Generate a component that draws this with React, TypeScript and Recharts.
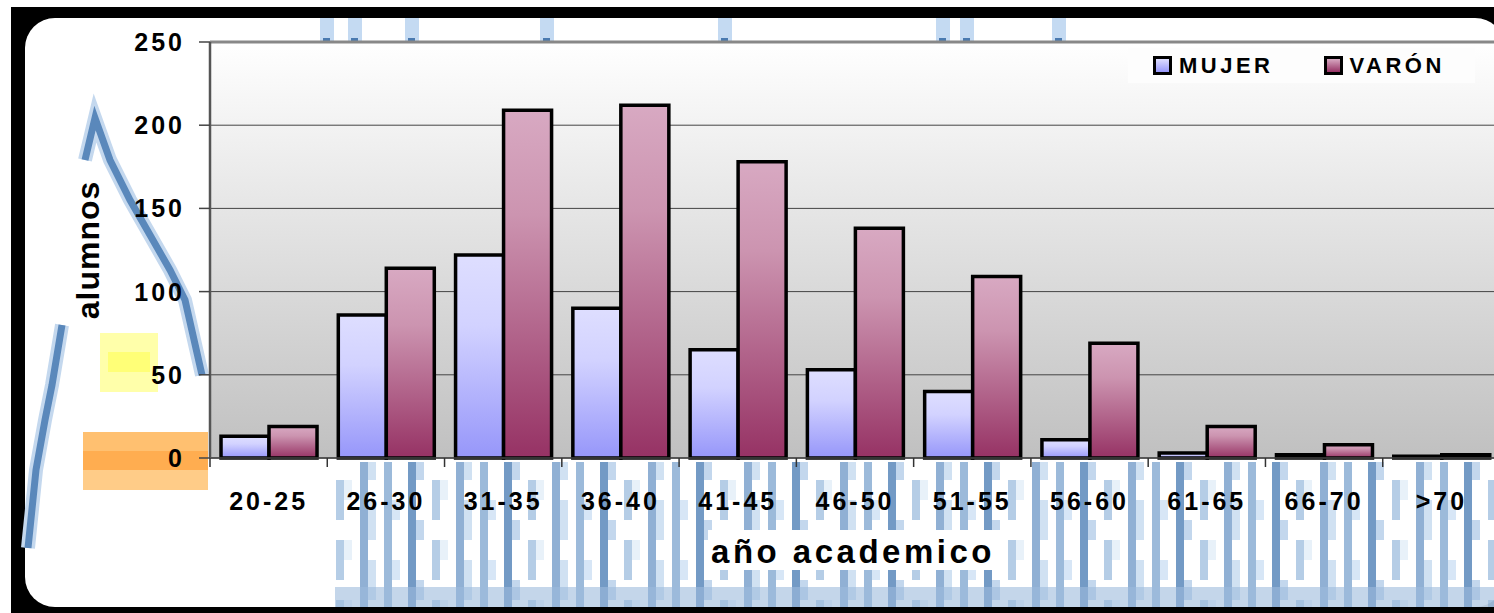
import { BarChart, Bar, XAxis, YAxis, CartesianGrid, Label, ReferenceLine } from "recharts";

const ageGroups = ["20-25", "26-30", "31-35", "36-40", "41-45", "46-50", "51-55", "56-60", "61-65", "66-70", ">70"];
const mujer = [13, 86, 122, 90, 65, 53, 40, 11, 3, 2, 1];
const varon = [19, 114, 209, 212, 178, 138, 109, 69, 19, 8, 2];
const yTicks = [0, 50, 100, 150, 200, 250];

const data = ageGroups.map((g, i) => ({ grupo: g, MUJER: mujer[i], VARON: varon[i] }));

const FONT = "'Liberation Sans', Arial, sans-serif";
const PLOT_LEFT = 210;
const CHART_W = 1500;
const BAND = (CHART_W - PLOT_LEFT) / ageGroups.length;

const XTick = (props: any) => {
  const { x, y, payload } = props;
  return (
    <g>
      <line x1={x - BAND / 2} x2={x - BAND / 2} y1={y} y2={y + 9} stroke="#333" strokeWidth={1.5} />
      <text x={x} y={y + 52} textAnchor="middle" fill="#000" fontFamily={FONT} fontWeight="bold" fontSize={25} letterSpacing={3}>
        {payload.value}
      </text>
    </g>
  );
};

const YTick = (props: any) => {
  const { x, y, payload } = props;
  return (
    <text x={x} y={y} dy="0.36em" textAnchor="end" fill="#000" fontFamily={FONT} fontWeight="bold" fontSize={25} letterSpacing={3}>
      {payload.value}
    </text>
  );
};

const legendItems = [
  { name: "MUJER", color: "linear-gradient(#dedeff, #9696fa)" },
  { name: "VARÓN", color: "linear-gradient(#d8a9c2, #963264)" },
];

const LegendBox = () => (
  <div
    style={{
      position: "absolute",
      top: 48,
      left: 1128,
      width: 347,
      height: 35,
      display: "flex",
      alignItems: "center",
      gap: 50,
      paddingLeft: 25,
      boxSizing: "border-box",
      background: "#fdfdfd",
      fontFamily: FONT,
    }}
  >
    {legendItems.map((it) => (
      <div key={it.name} style={{ display: "flex", alignItems: "center", gap: 7 }}>
        <span style={{ width: 13, height: 13, border: "3px solid #000", background: it.color, display: "inline-block" }} />
        <span style={{ fontWeight: "bold", fontSize: 22, letterSpacing: 3.5, color: "#000" }}>{it.name}</span>
      </div>
    ))}
  </div>
);

const Backdrop = () => (
  <svg width={1494} height={613} style={{ position: "absolute", left: 0, top: 0 }}>
    <defs>
      <pattern id="wm" width={96} height={60} patternUnits="userSpaceOnUse">
        <rect x={0} y={0} width={96} height={60} fill="#ffffff" />
        <rect x={0} y={0} width={8} height={60} fill="#8aaed4" />
        <rect x={8} y={20} width={8} height={20} fill="#d0e2f4" />
        <rect x={24} y={0} width={8} height={60} fill="#5a88bb" />
        <rect x={32} y={40} width={8} height={20} fill="#b8d0ea" />
        <rect x={48} y={0} width={8} height={40} fill="#a8c4e2" />
        <rect x={56} y={0} width={8} height={20} fill="#e4eef8" />
        <rect x={72} y={0} width={8} height={60} fill="#7ca2cc" />
        <rect x={80} y={20} width={8} height={40} fill="#c8dcf0" />
      </pattern>
    </defs>
    <rect x={0} y={0} width={1494} height={613} fill="#fff" />
    <rect x={11} y={7} width={1483} height={606} fill="#000" />
    <rect x={25} y={18} width={1480} height={589} rx={30} ry={30} fill="#fff" />
    {/* watermark remnants */}
    <rect x={335} y={462} width={1159} height={145} fill="url(#wm)" opacity={0.85} />
    <rect x={335} y={587} width={1159} height={20} fill="#9cbadc" opacity={0.6} />
    <rect x={708} y={530} width={294} height={40} fill="#fff" />
    <polyline points="62,325 52,385 45,420 36,470 28,548" fill="none" stroke="#c4d8ee" strokeWidth={14} />
    <polyline points="62,325 52,385 45,420 36,470 28,548" fill="none" stroke="#5a88bb" strokeWidth={7} />
    <polyline points="85,160 95,118 110,160 130,200 150,235 170,270 185,300 202,375" fill="none" stroke="#c4d8ee" strokeWidth={14} />
    <polyline points="85,160 95,118 110,160 130,200 150,235 170,270 185,300 202,375" fill="none" stroke="#5a88bb" strokeWidth={7} />
    <rect x={100} y={333} width={58} height={59} fill="#ffffaa" />
    <rect x={108} y={352} width={42} height={20} fill="#ffff77" />
    <rect x={83} y={432} width={125} height={19} fill="#ffc070" />
    <rect x={83} y={451} width={125} height={19} fill="#ffad50" />
    <rect x={83} y={470} width={125} height={20} fill="#ffcc88" />
    {[320, 348, 405, 540, 718, 936, 960, 1052].map((x) => (
      <g key={x}>
        <rect x={x} y={18} width={14} height={24} fill="#c4daf2" />
        <rect x={x + 3} y={38} width={7} height={4} fill="#4a7ab0" />
      </g>
    ))}
  </svg>
);

export default function App() {
  return (
    <div style={{ position: "absolute", left: 0, top: 0, width: 1494, height: 613, overflow: "hidden" }}>
      <Backdrop />
      <div style={{ position: "absolute", left: 0, top: 0 }}>
        <BarChart
          width={CHART_W}
          height={613}
          data={data}
          margin={{ top: 42, right: 0, left: 0, bottom: 95 }}
          barCategoryGap="9.4%"
          barGap={0}
        >
          <defs>
            <linearGradient id="plotBg" x1="0" y1="0" x2="0" y2="1">
              <stop offset="0" stopColor="#ffffff" />
              <stop offset="1" stopColor="#c0c0c0" />
            </linearGradient>
            <linearGradient id="gMujer" x1="0" y1="0" x2="0" y2="1">
              <stop offset="0" stopColor="#dedeff" />
              <stop offset="0.35" stopColor="#d2d2ff" />
              <stop offset="1" stopColor="#9696fa" />
            </linearGradient>
            <linearGradient id="gVaron" x1="0" y1="0" x2="0" y2="1">
              <stop offset="0" stopColor="#d8a9c2" />
              <stop offset="0.3" stopColor="#cc94b0" />
              <stop offset="1" stopColor="#963264" />
            </linearGradient>
          </defs>
          <CartesianGrid vertical={false} fill="url(#plotBg)" stroke="#444" strokeWidth={1} />
          <XAxis
            dataKey="grupo"
            tick={<XTick />}
            tickLine={false}
            tickSize={0}
            tickMargin={0}
            height={60}
            interval={0}
            axisLine={{ stroke: "#444", strokeWidth: 1.5 }}
          >
            <Label
              content={() => (
                <text x={853} y={563} textAnchor="middle" fill="#000" fontFamily={FONT} fontWeight="bold" fontSize={33} letterSpacing={3.5}>
                  año academico
                </text>
              )}
            />
          </XAxis>
          <YAxis
            domain={[0, 250]}
            ticks={yTicks}
            width={PLOT_LEFT}
            tick={<YTick />}
            tickSize={11}
            tickMargin={14}
            tickLine={{ stroke: "#444", strokeWidth: 1.5 }}
            axisLine={{ stroke: "#555", strokeWidth: 2.5 }}
          >
            <Label
              content={() => (
                <text x={99} y={250} transform="rotate(-90, 99, 250)" textAnchor="middle" fill="#000" fontFamily={FONT} fontWeight="bold" fontSize={32} letterSpacing={1}>
                  alumnos
                </text>
              )}
            />
          </YAxis>
          <ReferenceLine y={250} stroke="#888" strokeWidth={3} />
          <Bar dataKey="MUJER" name="MUJER" fill="url(#gMujer)" stroke="#000" strokeWidth={3.5} isAnimationActive={false} />
          <Bar dataKey="VARON" name="VARÓN" fill="url(#gVaron)" stroke="#000" strokeWidth={3.5} isAnimationActive={false} />
        </BarChart>
      </div>
      <LegendBox />
    </div>
  );
}
